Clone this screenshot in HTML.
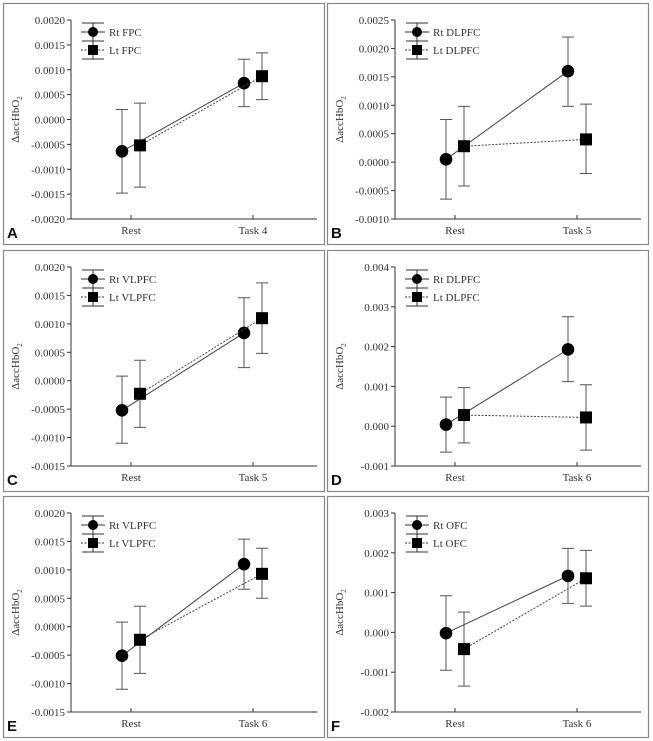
<!DOCTYPE html>
<html><head><meta charset="utf-8"><style>
html,body{margin:0;padding:0;background:#fff;}
svg{display:block;font-family:"Liberation Serif",serif;}
</style></head><body>
<svg id="fig" width="653" height="741" viewBox="0 0 653 741"></svg>
<script>
const panelLetters=["A","B","C","D","E","F"];
const taskLabels=["Task 4","Task 5","Task 5","Task 6","Task 6","Task 6"];
const rtNames=["Rt FPC","Rt DLPFC","Rt VLPFC","Rt DLPFC","Rt VLPFC","Rt OFC"];
const ltNames=["Lt FPC","Lt DLPFC","Lt VLPFC","Lt DLPFC","Lt VLPFC","Lt OFC"];
const yMins=[-0.002,-0.001,-0.0015,-0.001,-0.0015,-0.002];
const yMaxs=[0.002,0.0025,0.002,0.004,0.002,0.003];
const ySteps=[0.0005,0.0005,0.0005,0.001,0.0005,0.001];
const yDecimals=[4,4,4,3,4,3];
const rtMean=[[-0.00064,0.00073],[0.00005,0.0016],[-0.00052,0.00084],[0.00004,0.00193],[-0.00051,0.0011],[-0.00002,0.00142]];
const rtLow=[[-0.00148,0.00026],[-0.00065,0.00098],[-0.0011,0.00023],[-0.00065,0.00112],[-0.0011,0.00066],[-0.00095,0.00073]];
const rtHigh=[[0.0002,0.00121],[0.00075,0.0022],[0.00008,0.00146],[0.00073,0.00275],[0.00008,0.00154],[0.00092,0.00211]];
const ltMean=[[-0.00052,0.00087],[0.00028,0.0004],[-0.00023,0.0011],[0.00028,0.00022],[-0.00023,0.00093],[-0.00042,0.00136]];
const ltLow=[[-0.00136,0.0004],[-0.00042,-0.0002],[-0.00082,0.00048],[-0.00042,-0.0006],[-0.00082,0.0005],[-0.00135,0.00066]];
const ltHigh=[[0.00033,0.00134],[0.00098,0.00102],[0.00036,0.00172],[0.00097,0.00104],[0.00036,0.00138],[0.00051,0.00206]];

const NS="http://www.w3.org/2000/svg";
const svg=document.getElementById('fig');
function mk(tag,attrs,parent,text){const e=document.createElementNS(NS,tag);for(const k in attrs)e.setAttribute(k,attrs[k]);if(text!==undefined)e.textContent=text;parent.appendChild(e);return e;}
const panelX=[3,327],panelY=[3,250,496],PW=321,PH=241;
for(let p=0;p<6;p++){
  const ox=panelX[p%2],oy=panelY[Math.floor(p/2)];
  const g=mk('g',{transform:`translate(${ox},${oy})`},svg);
  
  
  const bx=mk('rect',{x:0.5,y:0.5,width:PW,height:PH,fill:'#fff',stroke:'#888','stroke-width':1.2},g);
  
  
  const L=68,T=17,B=216,R=314,xR=128,xT=250;
  const ymin=yMins[p],ymax=yMaxs[p];
  const ys=v=>B-(v-ymin)/(ymax-ymin)*(B-T);
  const ax=mk('path',{d:`M${L},${T}V${B}H${R}`,fill:'none',stroke:'#333','stroke-width':1},g);
  
  
  const n=Math.round((ymax-ymin)/ySteps[p]);
  for(let i=0;i<=n;i++){
    const v=ymin+i*ySteps[p],y=ys(v);
    mk('line',{x1:L-4,x2:L,y1:y,y2:y,stroke:'#333'},g);
    const t=mk('text',{x:L-6,y:y+4,'text-anchor':'end','font-size':11,fill:'#333'},g,(Math.abs(v)<1e-12?0:v).toFixed(yDecimals[p]));
    
    
  }
  [[xR,'Rest'],[xT,taskLabels[p]]].forEach(([x,lab])=>{
    mk('line',{x1:x,x2:x,y1:B,y2:B-4,stroke:'#333'},g);
    const t=mk('text',{x:x,y:B+15,'text-anchor':'middle','font-size':11,fill:'#333'},g,lab);
    
    
  });
  const yl=mk('text',{transform:`translate(16,${(T+B)/2}) rotate(-90)`,'text-anchor':'middle','font-size':11,fill:'#333'},g);
  
  
  yl.textContent='ΔaccHbO';
  mk('tspan',{'font-size':7,dy:3},yl,'2');
  const pl=mk('text',{x:4,y:235,'font-size':15,'font-weight':'bold','font-family':'Liberation Sans, sans-serif',fill:'#111'},g,panelLetters[p]);
  
  
  // series
  const series=[{m:rtMean[p],lo:rtLow[p],hi:rtHigh[p],off:-9,dash:null,sq:false,nm:'rt'},{m:ltMean[p],lo:ltLow[p],hi:ltHigh[p],off:9,dash:'2,1.5',sq:true,nm:'lt'}];
  series.forEach(s=>{
    const xs=[xR+s.off,xT+s.off];
    const ln=mk('line',{x1:xs[0],y1:ys(s.m[0]),x2:xs[1],y2:ys(s.m[1]),stroke:'#444','stroke-width':1},g);
    if(s.dash)ln.setAttribute('stroke-dasharray',s.dash);
    
    
    for(let i=0;i<2;i++){
      const x=xs[i],y1=ys(s.lo[i]),y2=ys(s.hi[i]);
      const eb=mk('path',{d:`M${x},${y1}V${y2}M${x-6},${y1}H${x+6}M${x-6},${y2}H${x+6}`,stroke:'#555',fill:'none','stroke-width':1},g);
      
      
      const y=ys(s.m[i]);
      let mkr;
      if(s.sq)mkr=mk('rect',{x:x-6,y:y-6,width:12,height:12,fill:'#000'},g);
      else mkr=mk('circle',{cx:x,cy:y,r:6.3,fill:'#000'},g);
      
      
    }
  });
  // legend
  const lg=mk('g',{},g);
  
  
  [[29,false,rtNames[p],null],[47,true,ltNames[p],'2,1.5']].forEach(([y,sq,nm,dash])=>{
    const cx=90;
    mk('path',{d:`M79,${y-9}H101M79,${y+9}H101M${cx},${y-9}V${y+9}`,stroke:'#333',fill:'none'},lg);
    const l=mk('line',{x1:78,x2:102,y1:y,y2:y,stroke:'#333'},lg);
    if(dash)l.setAttribute('stroke-dasharray',dash);
    if(sq)mk('rect',{x:cx-5,y:y-5,width:10,height:10,fill:'#000'},lg);
    else mk('circle',{cx:cx,cy:y,r:5,fill:'#000'},lg);
    const t=mk('text',{x:106,y:y+4,'font-size':11,fill:'#333'},lg,nm);
    
    
  });
}
</script>
</body></html>
